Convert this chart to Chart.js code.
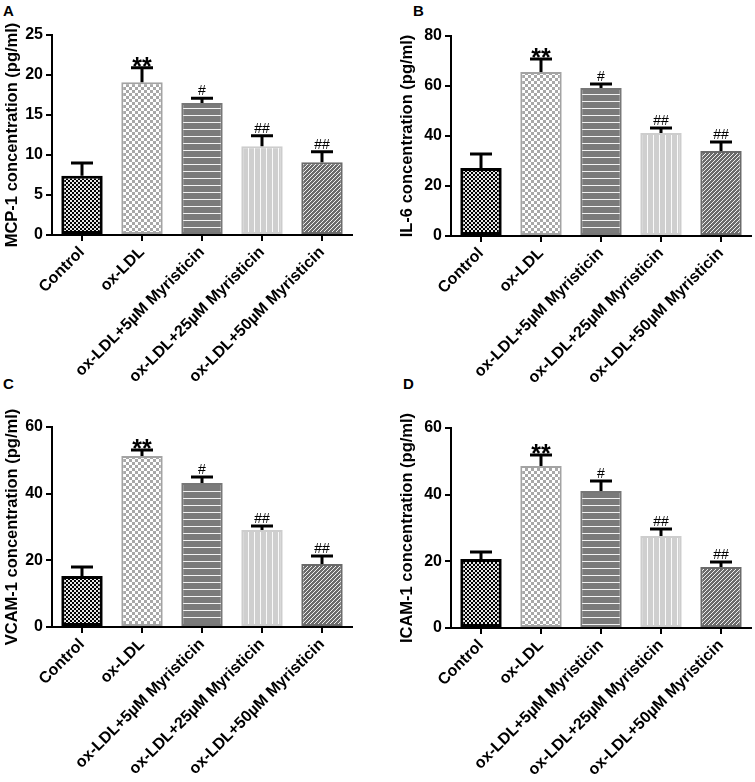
<!DOCTYPE html>
<html>
<head>
<meta charset="utf-8">
<script src="https://cdn.jsdelivr.net/npm/chart.js@4.4.0/dist/chart.umd.min.js"></script>
<style>
  body { margin: 0; background: #fff; width: 755px; height: 782px; position: relative; overflow: hidden;
         font-family: "Liberation Sans", Arial, sans-serif; }
  canvas { position: absolute; }
  .tag { position: absolute; font-weight: bold; font-size: 15px; line-height: 15px; color: #000; }
</style>
</head>
<body>
<div class="tag" style="left:3px;top:3px">A</div>
<div class="tag" style="left:413px;top:3px">B</div>
<div class="tag" style="left:3px;top:376px">C</div>
<div class="tag" style="left:403px;top:376px">D</div>

<canvas id="chartA" style="left:0;top:0" width="375" height="390"></canvas>
<canvas id="chartB" style="left:375px;top:0" width="380" height="390"></canvas>
<canvas id="chartC" style="left:0;top:390px" width="375" height="392"></canvas>
<canvas id="chartD" style="left:375px;top:390px" width="380" height="392"></canvas>

<script>
// groups on the x axis
const groups = ['Control', 'ox-LDL', 'ox-LDL+5µM Myristicin', 'ox-LDL+25µM Myristicin', 'ox-LDL+50µM Myristicin'];
// significance marks above each bar
const marks = ['', '**', '#', '##', '##'];

// means and SD (upper error)
const mcp1Values = [7.4, 19.1, 16.5, 11.1, 9.1];
const mcp1Errors = [1.6, 1.8, 0.6, 1.3, 1.3];
const il6Values = [27.2, 65.6, 59.2, 41.2, 34.0];
const il6Errors = [5.6, 5.2, 1.6, 2.0, 3.6];
const vcam1Values = [15.3, 51.3, 43.2, 29.1, 18.9];
const vcam1Errors = [2.7, 1.8, 1.8, 1.2, 2.4];
const icam1Values = [20.7, 48.6, 41.1, 27.6, 18.3];
const icam1Errors = [2.1, 3.3, 3.0, 2.1, 1.5];

// y axis ticks
const mcp1Ticks = [0, 5, 10, 15, 20, 25];
const il6Ticks = [0, 20, 40, 60, 80];
const vcam1Ticks = [0, 20, 40, 60];
const icam1Ticks = [0, 20, 40, 60];

Chart.defaults.font.family = '"Liberation Sans", Arial, sans-serif';
Chart.defaults.font.weight = 'bold';
Chart.defaults.font.size = 16;
Chart.defaults.color = '#000';

function makePattern(kind) {
  const c = document.createElement('canvas');
  const g = c.getContext('2d');
  if (kind === 'fineCheck') {
    c.width = 4; c.height = 4;
    g.fillStyle = '#e6e6e6'; g.fillRect(0, 0, 4, 4);
    g.fillStyle = '#000'; g.fillRect(0, 0, 2, 2); g.fillRect(2, 2, 2, 2);
  } else if (kind === 'coarseCheck') {
    c.width = 6; c.height = 6;
    g.fillStyle = '#fff'; g.fillRect(0, 0, 6, 6);
    g.fillStyle = '#a8a8a8'; g.fillRect(0, 0, 3, 3); g.fillRect(3, 3, 3, 3);
  } else if (kind === 'hLines') {
    c.width = 4; c.height = 7;
    g.fillStyle = '#7a7a7a'; g.fillRect(0, 0, 4, 7);
    g.fillStyle = '#f2f2f2'; g.fillRect(0, 3, 4, 1);
  } else if (kind === 'vLines') {
    c.width = 6; c.height = 4;
    g.fillStyle = '#cfcfcf'; g.fillRect(0, 0, 6, 4);
    g.fillStyle = '#fafafa'; g.fillRect(2, 0, 1, 4);
  } else {
    c.width = 4; c.height = 4;
    g.fillStyle = '#6b6b6b'; g.fillRect(0, 0, 4, 4);
    g.fillStyle = '#f0f0f0';
    for (let i = 0; i < 4; i++) g.fillRect(i, 3 - i, 1, 1);
  }
  return g.createPattern(c, 'repeat');
}

const fills = ['fineCheck', 'coarseCheck', 'hLines', 'vLines', 'diag'].map(makePattern);
const borders = ['#000', '#a3a3a3', '#777', '#cdcdcd', '#6a6a6a'];
const borderWidths = [3, 2, 2, 2, 2];

// error bars and significance marks, placed with the chart's own scales
const errorBars = {
  id: 'errorBars',
  afterDatasetsDraw(chart) {
    const ctx = chart.ctx;
    const ds = chart.data.datasets[0];
    const yScale = chart.scales.y;
    ctx.save();
    chart.getDatasetMeta(0).data.forEach((bar, i) => {
      const top = yScale.getPixelForValue(ds.data[i] + ds.errors[i]);
      ctx.strokeStyle = '#000';
      ctx.lineWidth = 3;
      ctx.beginPath();
      ctx.moveTo(bar.x, bar.y);
      ctx.lineTo(bar.x, top);
      ctx.moveTo(bar.x - 11, top);
      ctx.lineTo(bar.x + 11, top);
      ctx.stroke();

      const m = ds.marks[i];
      if (!m) return;
      ctx.fillStyle = '#000';
      ctx.textAlign = 'center';
      ctx.textBaseline = 'alphabetic';
      if (m.startsWith('*')) {
        ctx.font = 'bold 25px "Liberation Sans", Arial, sans-serif';
        ctx.fillText(m, bar.x, top + 7);
      } else {
        ctx.font = '14px "Liberation Sans", Arial, sans-serif';
        ctx.fillText(m, bar.x, top - 3);
      }
    });
    ctx.restore();
  }
};

function drawPanel(id, title, values, errors, ticks, box) {
  new Chart(document.getElementById(id), {
    type: 'bar',
    data: {
      labels: groups,
      datasets: [{
        data: values,
        errors: errors,
        marks: marks,
        backgroundColor: fills,
        borderColor: borders,
        borderWidth: borderWidths,
        borderSkipped: false,
        barPercentage: 0.69,
        categoryPercentage: 1
      }]
    },
    options: {
      responsive: false,
      animation: false,
      devicePixelRatio: 1,
      layout: { padding: { left: box.padLeft, top: box.padTop, right: box.padRight, bottom: 0 } },
      plugins: { legend: { display: false }, tooltip: { enabled: false } },
      scales: {
        x: {
          offset: true,
          ticks: { minRotation: 45, maxRotation: 45, autoSkip: false, padding: 2, font: { size: 16, weight: 'bold' } },
          grid: { display: true, offset: false, drawOnChartArea: false, drawTicks: true, tickLength: 6, color: '#000', lineWidth: 2 },
          border: { display: true, color: '#000', width: 2 },
          afterFit: s => { s.height = box.xHeight; }
        },
        y: {
          min: ticks[0],
          max: ticks[ticks.length - 1],
          afterBuildTicks: s => { s.ticks = ticks.map(v => ({ value: v })); },
          ticks: { padding: 3, font: { size: 16, weight: 'bold' } },
          grid: { display: true, drawOnChartArea: false, drawTicks: true, tickLength: 6, color: '#000', lineWidth: 2 },
          border: { display: true, color: '#000', width: 2 },
          title: { display: true, text: title, font: { size: 16.5, weight: 'bold' }, padding: { top: 3, bottom: 2 } },
          afterFit: s => { s.width = box.axisWidth; }
        }
      }
    },
    plugins: [errorBars]
  });
}

drawPanel('chartA', 'MCP-1 concentration (pg/ml)', mcp1Values, mcp1Errors, mcp1Ticks,
  { padLeft: 0, axisWidth: 52, padTop: 35, padRight: 23, xHeight: 155 });
drawPanel('chartB', 'IL-6 concentration (pg/ml)', il6Values, il6Errors, il6Ticks,
  { padLeft: 20, axisWidth: 56, padTop: 36, padRight: 4, xHeight: 154 });
drawPanel('chartC', 'VCAM-1 concentration (pg/ml)', vcam1Values, vcam1Errors, vcam1Ticks,
  { padLeft: 0, axisWidth: 52, padTop: 37, padRight: 23, xHeight: 155 });
drawPanel('chartD', 'ICAM-1 concentration (pg/ml)', icam1Values, icam1Errors, icam1Ticks,
  { padLeft: 20, axisWidth: 56, padTop: 38, padRight: 4, xHeight: 154 });
</script>
</body>
</html>
